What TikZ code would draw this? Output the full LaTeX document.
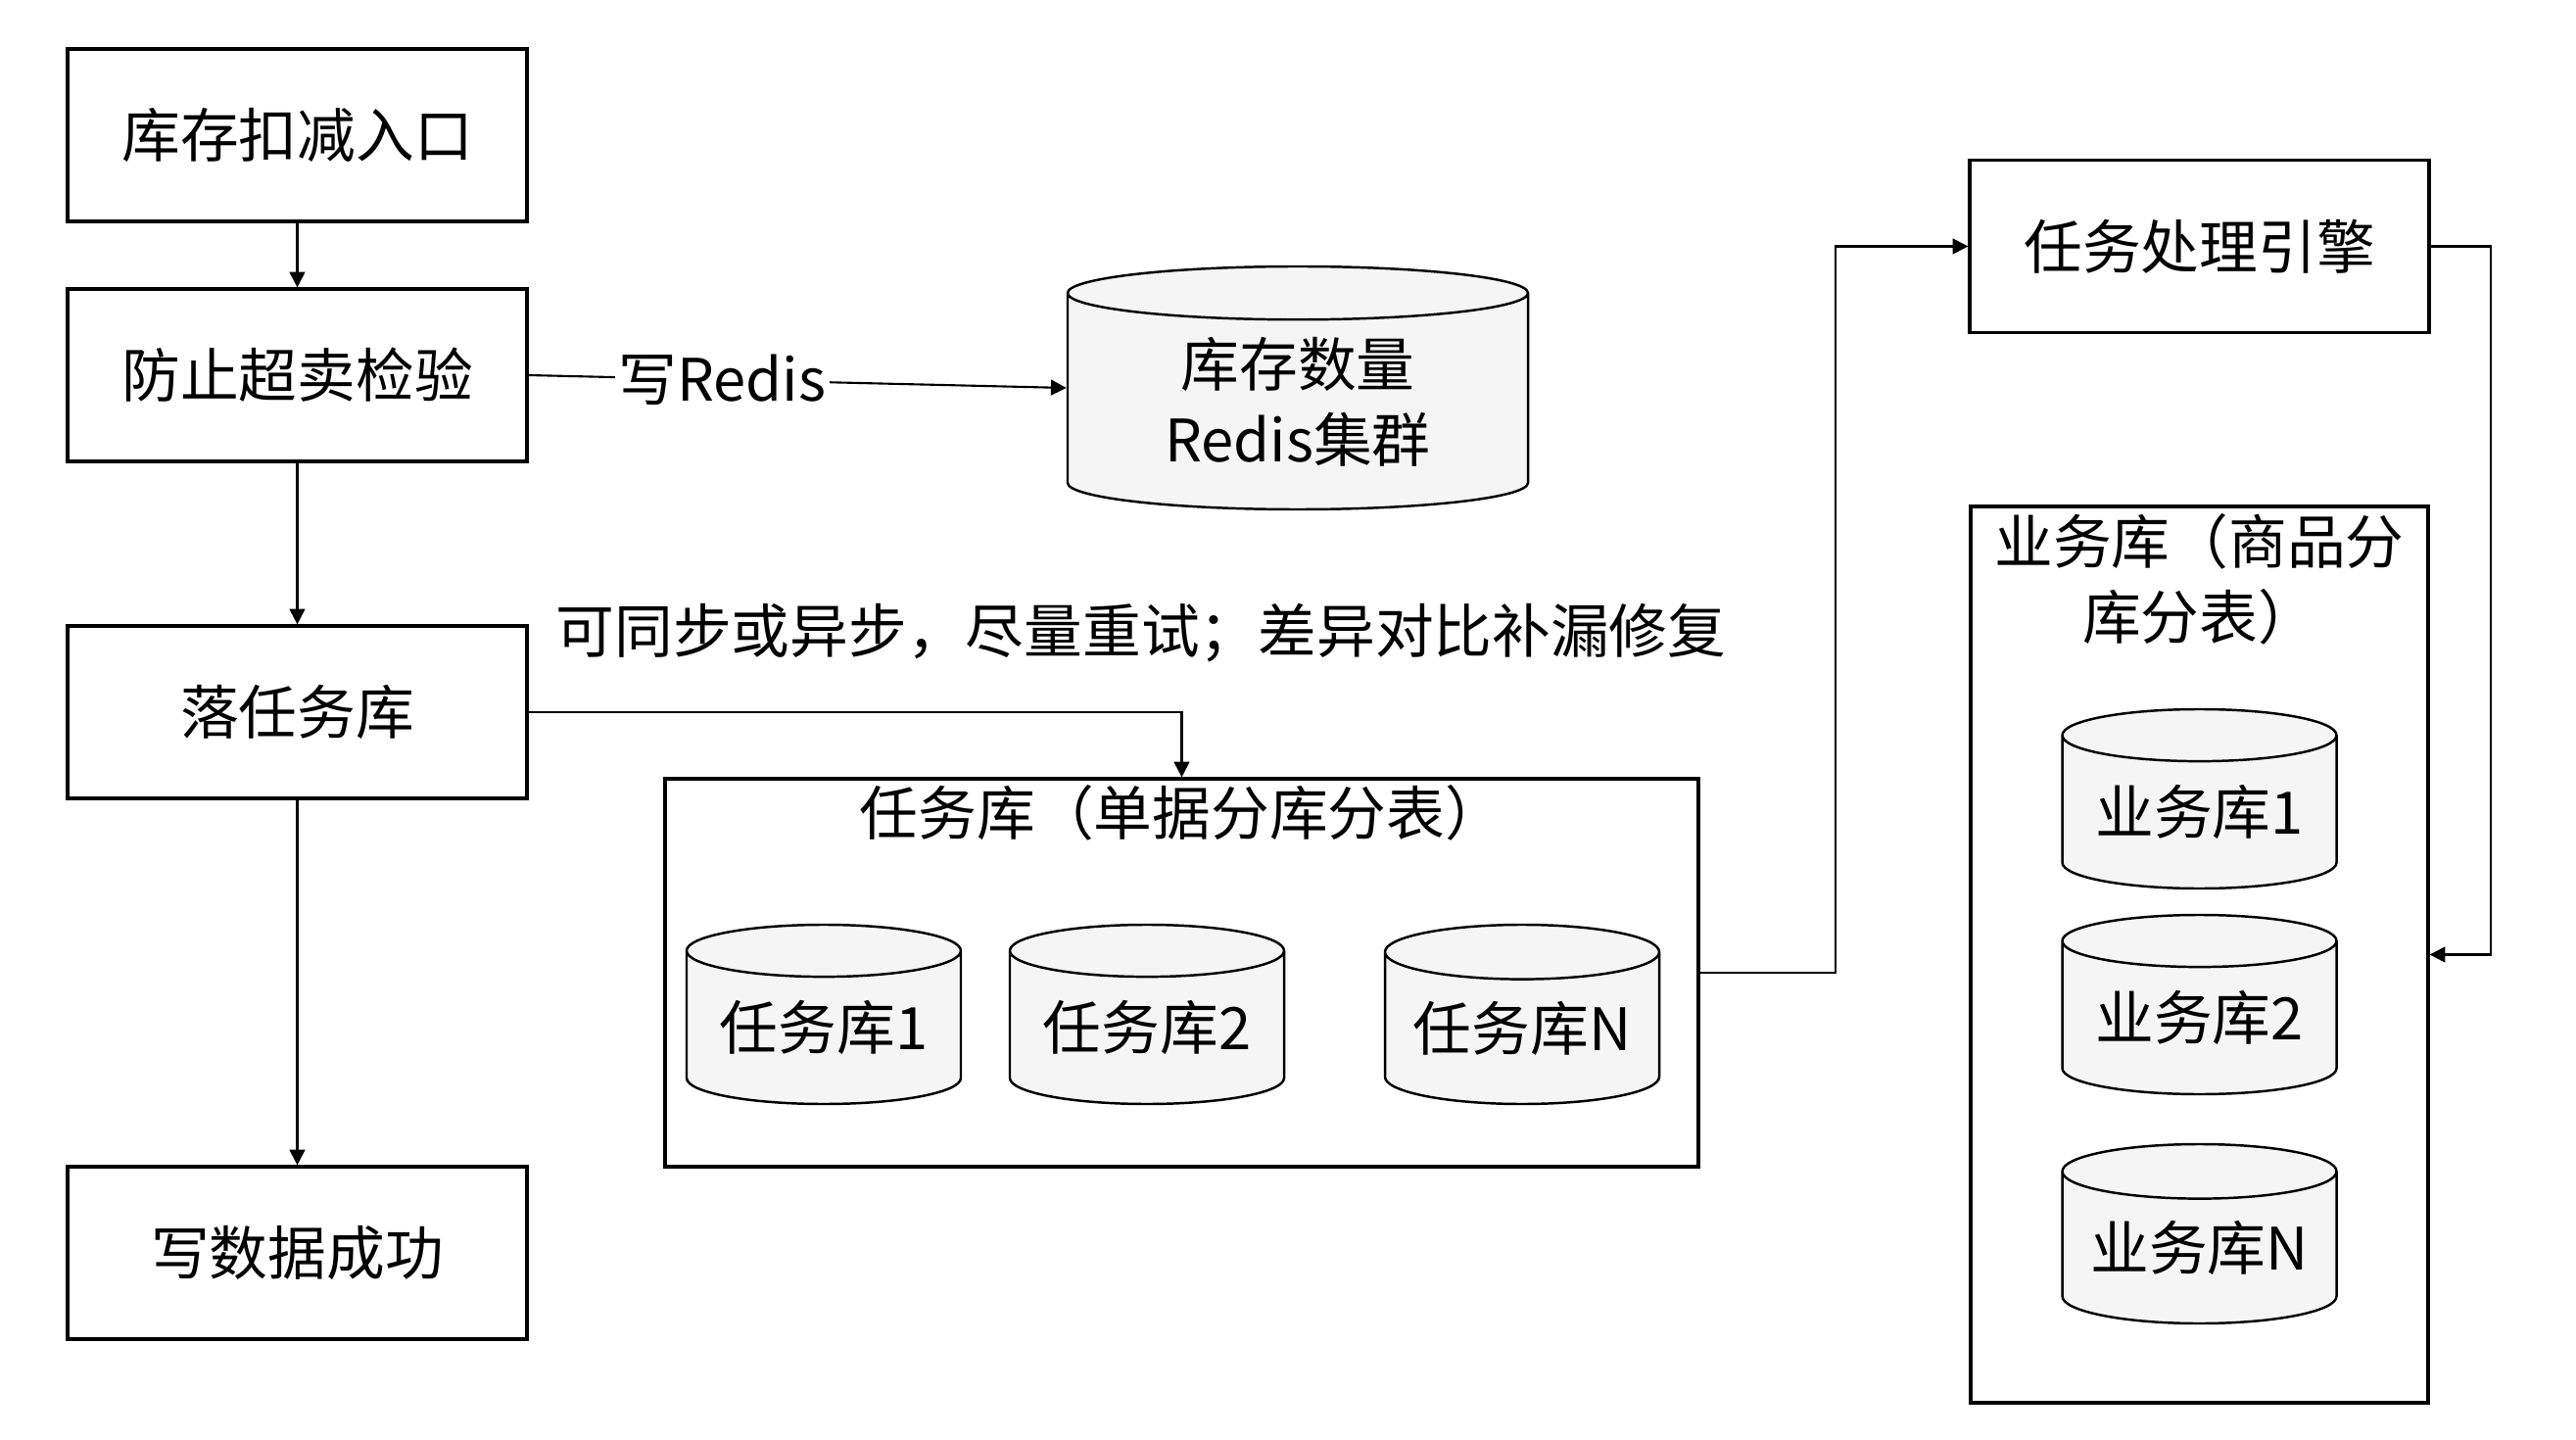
\documentclass[tikz,border=0pt]{standalone}
\usepackage{fontspec}
\setmainfont{Noto Sans CJK SC}
\usepackage{tikz}
\usetikzlibrary{arrows.meta, positioning, shapes.geometric}
\definecolor{dbFill}{HTML}{F5F5F5}

\begin{document}
\begin{tikzpicture}[
  font=\fontsize{17}{22}\selectfont,
  stage/.style={draw, line width=0.9pt, minimum width=4.69cm, minimum height=1.76cm,
                inner sep=0pt},
  group/.style={draw, line width=0.9pt, inner sep=0pt},
  db/.style={cylinder, shape border rotate=90, draw, line width=0.7pt, aspect=0.25,
             cylinder uses custom fill, cylinder body fill=dbFill, cylinder end fill=dbFill,
             minimum width=2.8cm, minimum height=1.83cm, inner sep=0pt, anchor=shape center},
  conn/.style={line width=0.6pt, -{Triangle[length=4.5pt,width=4.5pt]}},
]
  \useasboundingbox (0,0) rectangle (26.3,-14.7);

  % left column
  \node[stage] (entry) at (3.035,-1.38) {库存扣减入口};
  \node[stage] (check) at (3.035,-3.83) {防止超卖检验};
  \node[stage] (task) at (3.035,-7.27) {落任务库};
  \node[stage] (done) at (3.035,-12.79) {写数据成功};

  % redis
  \node[db, aspect=0.2, minimum width=4.7cm, minimum height=2.48cm, align=center]
    (redis) at (13.25,-3.96) {库存数量\\Redis集群};

  % task db
  \node[group, minimum width=10.55cm, minimum height=3.96cm] (taskdb) at (12.065,-9.93) {};
  \node (taskdbtitle) at (12.065,-8.30) {任务库（单据分库分表）};
  \node[db] (t1) at (8.41,-10.355) {任务库1};
  \node[db] (t2) at (11.71,-10.355) {任务库2};
  \node[db] (tn) at (15.54,-10.355) {任务库N};
  \node (note) at (11.65,-6.46) {可同步或异步，尽量重试；差异对比补漏修复};

  % engine + biz db
  \node[stage] (engine) at (22.455,-2.515) {任务处理引擎};
  \node[group, minimum width=4.67cm, minimum height=9.15cm] (bizdb) at (22.455,-9.745) {};
  \node[align=center] (bizdbtitle) at (22.455,-5.91) {业务库（商品分\\库分表）};
  \node[db] (b1) at (22.455,-8.155) {业务库1};
  \node[db] (b2) at (22.455,-10.255) {业务库2};
  \node[db] (bn) at (22.455,-12.595) {业务库N};

  % arrows
  \draw[conn] (entry) -- (check);
  \draw[conn] (check) -- (task);
  \draw[conn] (task) -- (done);
  \draw[conn] (check.east) -- node[pos=0.36, fill=white, inner sep=1pt] (wlabel) {写Redis}
    (redis.shape center -| redis.west);
  \draw[conn] (task.east) -| (taskdb.north);
  \draw[conn] (taskdb.east) -- ++(1.38,0) |- (engine.west);
  \draw[conn] (engine.east) -- ++(0.61,0) |- (bizdb.east);
\end{tikzpicture}
\end{document}
